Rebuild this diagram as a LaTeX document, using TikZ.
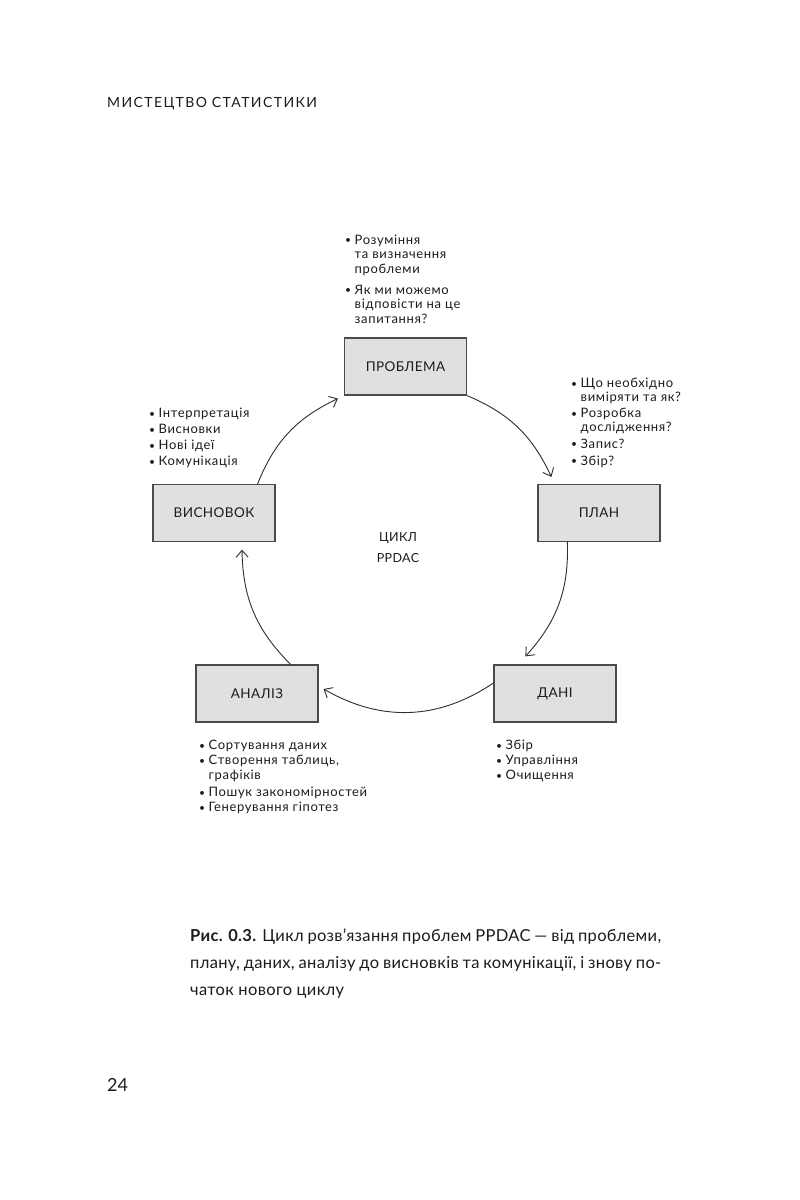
\documentclass[tikz,border=0pt]{standalone}
\usepackage{fontspec}
\setmainfont{Lato}
\newfontfamily\hdrfont[LetterSpace=10]{Lato}
\newfontfamily\lstfont[LetterSpace=5]{Lato}
\newfontfamily\boxfont[LetterSpace=3]{Lato}
\newfontfamily\capfont[LetterSpace=2]{Lato}
\usetikzlibrary{arrows.meta,calc}
\definecolor{boxfill}{HTML}{E0E0E0}
\definecolor{boxline}{HTML}{4A4A4A}
\definecolor{arrcol}{HTML}{2E2E2E}
\definecolor{txt}{HTML}{1C1C1C}
\newcommand\bul{\makebox[9.5pt][l]{\raisebox{0.6pt}{\scalebox{0.8}{•}}}}
\newcommand\ind{\hspace*{9.5pt}}
\begin{document}
\begin{tikzpicture}[x=1pt,y=1pt,
  box/.style={draw=boxline,fill=boxfill,line width=1.2pt,minimum width=122pt,minimum height=57pt,inner sep=0pt,text=txt,font=\boxfont\fontsize{13.5}{16}\selectfont},
  arr/.style={draw=arrcol,line width=0.9pt,-{Straight Barb[length=7pt,width=12pt,line width=0.9pt]}},
  lst/.style={anchor=north west,align=left,inner sep=0pt,text=txt}]
\useasboundingbox[fill=white] (0,0) rectangle (800,-1200);

% header and page number
\node[anchor=west,inner sep=0pt,text=txt,font=\hdrfont\fontsize{14}{16}\selectfont] (hdr) at (107,-104) {МИСТЕЦТВО СТАТИСТИКИ};
\node[anchor=west,inner sep=0pt,text=txt,font=\fontsize{18}{20}\selectfont] (pg) at (107,-1085) {24};

% boxes
\node[box] (P) at (405.5,-366.5) {ПРОБЛЕМА};
\node[box] (L) at (599,-513) {ПЛАН};
\node[box] (D) at (555,-693.5) {ДАНІ};
\node[box] (A) at (257,-693.5) {АНАЛІЗ};
\node[box] (V) at (214,-513) {ВИСНОВОК};

% centre label
\node[align=center,inner sep=0pt,text=txt,font=\boxfont\fontsize{12.5}{21}\selectfont] (C) at (398,-548) {ЦИКЛ\\PPDAC};

% cycle arrows
\draw[arr] (P.south east) to[bend left=21] ($(L.north west)+(14,7)$);
\draw[arr] ($(L.south west)+(30,0)$) to[bend left=22] ($(D.north west)+(32,8)$);
\draw[arr] ($(D.west)+(0,10.5)$) to[bend left=32] ($(A.east)+(5,4.5)$);
\draw[arr] ($(A.north east)+(-28,0)$) to[bend left=22] ($(V.south)+(28,-7.5)$);
\draw[arr] ($(V.north east)+(-18,0)$) to[bend left=21.5] ($(P.south west)+(-6,-3)$);

% lists
\node[lst,font=\lstfont\fontsize{13}{14.5}\selectfont] (tP) at (345,-234.5) {\bul Розуміння\\ \ind та визначення\\ \ind проблеми\\[6.5pt] \bul Як ми можемо\\ \ind відповісти на це\\ \ind запитання?};
\node[lst,font=\lstfont\fontsize{13}{13.5}\selectfont] (tL) at (571,-378) {\bul Що необхідно\\ \ind виміряти та як?\\[3pt] \bul Розробка\\ \ind дослідження?\\[3.5pt] \bul Запис?\\[3.5pt] \bul Збір?};
\node[lst,font=\lstfont\fontsize{13}{16}\selectfont] (tV) at (149,-408) {\bul Інтерпретація\\ \bul Висновки\\ \bul Нові ідеї\\ \bul Комунікація};
\node[lst,font=\lstfont\fontsize{13}{15}\selectfont] (tA) at (199,-740) {\bul Сортування даних\\ \bul Створення таблиць,\\ \ind графіків\\[2pt] \bul Пошук закономірностей\\ \bul Генерування гіпотез};
\node[lst,font=\lstfont\fontsize{13}{15}\selectfont] (tD) at (496,-740) {\bul Збір\\ \bul Управління\\ \bul Очищення};

% caption
\node[lst,font=\capfont\fontsize{16.5}{27}\selectfont] (cap) at (190,-929) {\makebox[471pt][s]{\textbf{Рис. 0.3.} Цикл розв’язання проблем PPDAC — від проблеми,}\\ \makebox[471pt][s]{плану, даних, аналізу до висновків та комунікації, і знову по-}\\ чаток нового циклу};
\end{tikzpicture}
\end{document}
